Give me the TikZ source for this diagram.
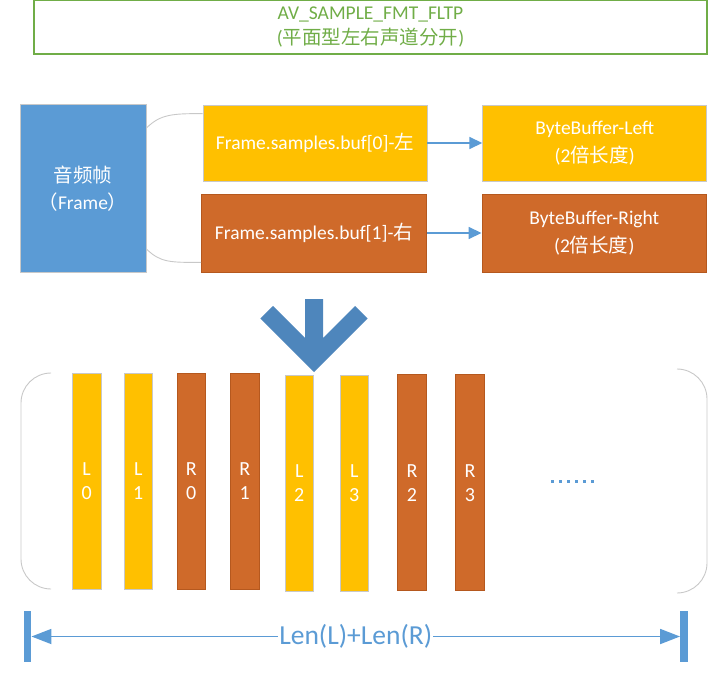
\documentclass[tikz,border=0pt]{standalone}
\usepackage{fontspec}
\setmainfont{Carlito}
\newfontfamily\cjk{Noto Sans CJK SC}
\usetikzlibrary{arrows.meta,calc}
\definecolor{ygold}{HTML}{FFC000}
\definecolor{orng}{HTML}{CF6A2A}
\definecolor{orngline}{HTML}{B5581E}
\definecolor{fblue}{HTML}{5B9BD5}
\definecolor{dblue}{HTML}{4E86BC}
\definecolor{tgreen}{HTML}{70AD47}
\definecolor{lgray}{HTML}{C8C8C8}
\newcommand{\zh}[1]{{\cjk #1}}
\begin{document}
\begin{tikzpicture}[x=1pt,y=-1pt,
  boxtxt/.style={font=\fontsize{19.5}{27.5}\selectfont, text=white, align=center, inner sep=0pt},
  ybox/.style={boxtxt, fill=ygold, draw=lgray, line width=0.8pt},
  obox/.style={boxtxt, fill=orng, draw=orngline, line width=0.8pt},
  ybar/.style={fill=ygold, draw=lgray, line width=0.9pt, minimum width=28.5pt, minimum height=216pt, inner sep=0pt, text=white, align=center, font=\fontsize{20}{24}\selectfont},
  obar/.style={ybar, fill=orng, draw=orngline},
  conn/.style={draw=fblue, line width=1.6pt, -{Triangle[length=13pt,width=12pt]}},
  bracket/.style={draw=lgray, line width=0.9pt}
]
\useasboundingbox (0,0) rectangle (717,674);

% title box
\node[draw=tgreen, line width=1.3pt, minimum width=673pt, minimum height=54pt, inner sep=0pt,
      text=tgreen, align=center, font=\fontsize{19.5}{25}\selectfont] (title) at (370.5,27)
  {AV\_SAMPLE\_FMT\_FLTP\\(\zh{平面型左右声道分开})};

% frame box
\node[boxtxt, fill=fblue, draw=lgray, line width=0.8pt, minimum width=126pt, minimum height=168pt] (frame) at (83,188.5)
  {\zh{音频帧}\\\zh{（}Frame\zh{）}};

% buffers
\node[ybox, minimum width=224pt, minimum height=76pt] (buf0) at (315,143) {Frame.samples.buf[0]-\zh{左}};
\node[obox, minimum width=225pt, minimum height=78pt] (buf1) at (314,233) {Frame.samples.buf[1]-\zh{右}};
\node[ybox, minimum width=224pt, minimum height=76pt] (bbl) at (594.7,143) {ByteBuffer-Left\\(2\zh{倍长度})};
\node[obox, minimum width=224.7pt, minimum height=78pt] (bbr) at (594.3,233) {ByteBuffer-Right\\(2\zh{倍长度})};

% brace curves
\draw[bracket] ($(frame.north east)+(0,24)$) .. controls ($(frame.north east)+(14,10)$) and ($(buf0.north west)+(-30,9)$) .. ($(buf0.north west)+(0,9)$);
\draw[bracket] ($(frame.south east)+(0,-24)$) .. controls ($(frame.south east)+(14,-10)$) and ($(buf1.south west)+(-30,-10)$) .. ($(buf1.south west)+(0,-10)$);

% arrows
\draw[conn] (buf0.east) -- (bbl.west);
\draw[conn] (buf1.east) -- (bbr.west);

% big down arrow
\fill[dblue] (305,299) -- (323,299) -- (323,338) -- (355,306) -- (367.7,318.5) -- (314,372) -- (260.3,318.5) -- (273,306) -- (305,338) -- cycle;

% brackets
\draw[bracket, rounded corners=30pt] (48,373) -- (21,373) -- (21,589) -- (48,589);
\draw[bracket, rounded corners=30pt] (677,369) -- (707,369) -- (707,593) -- (677,593);

% bars
\node[ybar] (l0) at (86.7,481.3) {L\\0};
\node[ybar] (l1) at (138.3,481.3) {L\\1};
\node[obar] (r0) at (191.3,481.3) {R\\0};
\node[obar] (r1) at (244.7,481.3) {R\\1};
\node[ybar] (l2) at (299.3,483.3) {L\\2};
\node[ybar] (l3) at (354.3,483.3) {L\\3};
\node[obar] (r2) at (412,482.8) {R\\2};
\node[obar] (r3) at (470,482.8) {R\\3};

% dots
\coordinate (dotsA) at (551,481.7);
\coordinate (dotsB) at (595,481.7);
\draw[fblue, line width=3.3pt, dash pattern=on 3.3pt off 4.7pt] (dotsA) -- (dotsB);

% dimension
\node[fill=fblue, minimum width=7.5pt, minimum height=51pt, inner sep=0pt] (lbar) at (27.5,636.5) {};
\node[fill=fblue, minimum width=7.5pt, minimum height=51pt, inner sep=0pt] (rbar) at (684,636.5) {};
\draw[draw=fblue, line width=1.8pt, {Triangle[length=20pt,width=15pt]}-{Triangle[length=20pt,width=15pt]}] (lbar.east) -- (rbar.west)
  node[midway, fill=white, inner sep=1pt, text=fblue, font=\fontsize{27.5}{30}\selectfont] (dimlabel) {Len(L)+Len(R)};
\end{tikzpicture}
\end{document}
